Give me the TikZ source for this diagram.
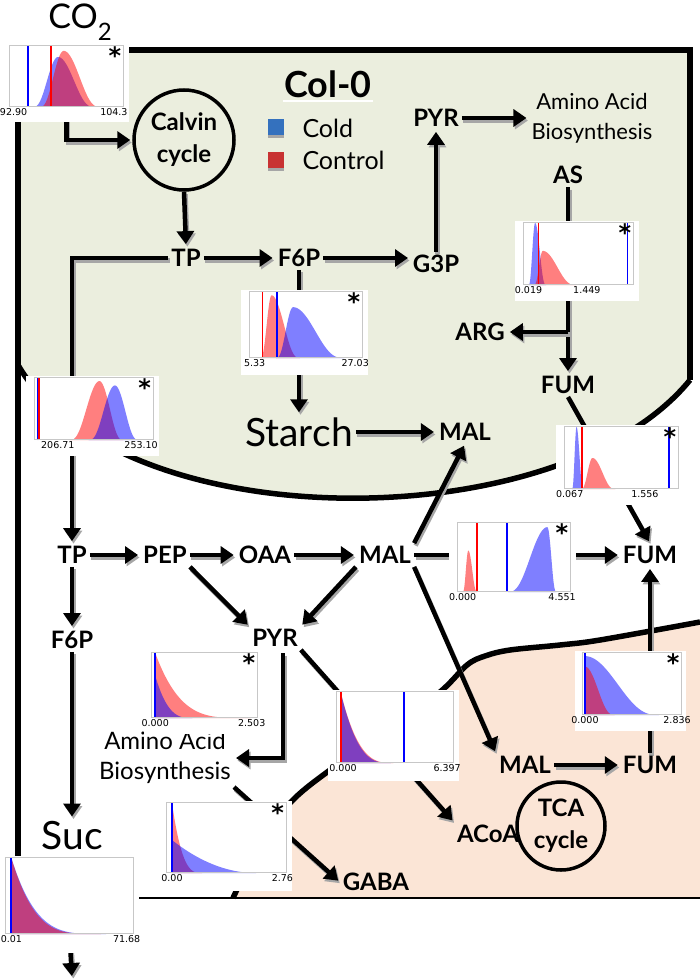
\documentclass[tikz,border=0pt]{standalone}
\usepackage{fontspec}
\setmainfont{Lato}
\newfontfamily\tickfont{DejaVu Sans}
\usetikzlibrary{arrows.meta}
\definecolor{chloro}{RGB}{235,238,222}
\definecolor{mito}{RGB}{251,229,214}
\definecolor{coldblue}{RGB}{52,113,190}
\definecolor{ctrlred}{RGB}{200,50,50}
\pgfdeclarelayer{regions}
\pgfdeclarelayer{links}
\pgfsetlayers{regions,links,main}

\newcommand{\bump}[4]{\fill[#1] (#2,0) -- plot[domain=#2:#3, samples=70] (\x,{#4}) -- (#3,0) -- cycle;}
\newcommand{\mline}[2]{\draw[#1, line width=1.8pt] (#2,0) -- (#2,1);}
\newcommand{\sigstar}{\node[sig] at (0.985,0.99) {*};}
\newcommand{\histo}[9]{%
  \begin{scope}[shift={#2}, x=#3pt, y=#4pt]
    \fill[white] (-0.07,-0.25) rectangle (1.05,1.03);
    #9
    \node[hframe, minimum width=#3pt, minimum height=#4pt, anchor=south west] (#1) at (0,0) {};
    \node[tick] at (#5,0) {#6};
    \node[tick] at (#7,0) {#8};
  \end{scope}}
\newcommand{\link}[3][--]{%
  \draw[arr, draw=black!35] ([shift={(1.5,2.5)}]#2) #1 ([shift={(1.5,2.5)}]#3);
  \draw[arr] (#2) #1 (#3);}

\begin{document}
\begin{tikzpicture}[x=1pt, y=-1pt,
    met/.style={font=\fontsize{24}{24}\selectfont\bfseries, inner sep=3pt},
    big/.style={font=\fontsize{39}{39}\selectfont, inner sep=3pt},
    txt/.style={font=\fontsize{24}{30}\selectfont, align=center, inner sep=3pt},
    cyc/.style={circle, draw, line width=3.5pt, font=\fontsize{24}{32}\selectfont\bfseries, align=center, inner sep=0pt},
    arr/.style={line width=4.5pt, -{Triangle[length=13pt,width=17pt]}, shorten >=2pt},
    wall/.style={line width=5.5pt},
    key/.style={minimum size=16pt, inner sep=0pt},
    hframe/.style={draw=black!22, line width=0.8pt, inner sep=0pt},
    tick/.style={font=\tickfont\fontsize{9.5}{10}\selectfont, inner sep=1.5pt, anchor=north},
    sig/.style={font=\tickfont\bfseries\fontsize{24}{24}\selectfont, inner sep=0pt, anchor=north east},
    blu/.style={fill=blue, fill opacity=0.5},
    rd/.style={fill=red, fill opacity=0.5},
    declare function={bp(\x,\qm,\ql,\qr)=max(0,1-((\x-\qm)/((\x<\qm)*\ql+(1-(\x<\qm))*\qr))^2)^3;
      dk(\x,\qm,\qw,\qp)=max(0,1-(\x-\qm)/\qw)^\qp;}]
\useasboundingbox (0,0) rectangle (700,979);

\begin{pgfonlayer}{regions}
  \fill[chloro] (18,50) -- (690,50) -- (690,380) .. controls (560,540) and (120,540) .. (18,365) -- cycle;
  \fill[mito] plot[smooth, tension=0.55] coordinates {(700,622) (600,640) (560,645) (510,650) (485,656) (467,665) (440,692) (385,733) (330,770) (290,803) (258,848) (233,898)} -- (700,898) -- cycle;
  \draw[wall] (690,380) .. controls (560,540) and (120,540) .. (18,365);
  \draw[wall] plot[smooth, tension=0.55] coordinates {(700,622) (600,640) (560,645) (510,650) (485,656) (467,665) (440,692) (385,733) (330,770) (290,803) (258,848) (233,898)};
  \draw[wall] (18,898) -- (18,50) -- (690,50) -- (690,380);
  \draw[line width=2pt] (18,898) -- (700,898);
\end{pgfonlayer}

\node[font=\fontsize{34}{34}\selectfont, inner sep=0pt, anchor=north] (co2) at (80,4) {CO\raisebox{-0.35em}{\fontsize{24}{24}\selectfont 2}};
\node[cyc, minimum size=100pt] (calvin) at (184,140) {Calvin\\cycle};
\node[font=\fontsize{36}{36}\selectfont\bfseries, inner sep=1pt] (col0) at (328,84) {Col-0};
\draw[white, line width=2pt] ([yshift=-2pt]col0.south west) -- ([yshift=-2pt]col0.south east);
\node[key, fill=coldblue] (kcold) at (276,127) {};
\node[key, fill=ctrlred] (kctrl) at (276,160) {};
\fill[black!35] (kcold.south west) rectangle ([yshift=-3pt]kcold.south east);
\fill[black!35] (kctrl.south west) rectangle ([yshift=-3pt]kctrl.south east);
\node[anchor=west, font=\fontsize{25}{25}\selectfont] (cold) at (299,128) {Cold};
\node[anchor=west, font=\fontsize{25}{25}\selectfont] (ctrl) at (299,160) {Control};

\node[met] (pyrc) at (436,118) {PYR};
\node[txt, font=\fontsize{22}{30}\selectfont] (aac) at (592,118) {Amino Acid\\Biosynthesis};
\node[met] (as) at (568,175) {AS};
\node[met] (tpc) at (186,258) {TP};
\node[met] (f6pc) at (299,258) {F6P};
\node[met] (g3p) at (436,264) {G3P};
\coordinate (g3pin) at (410,258);
\node[big] (starch) at (299,432) {Starch};
\node[met] (malc) at (465,432) {MAL};
\node[met] (arg) at (480,332) {ARG};
\coordinate (argjoin) at (568,332);
\node[met] (fumc) at (568,385) {FUM};

\node[met] (tp) at (72,555) {TP};
\node[met] (pep) at (165,555) {PEP};
\node[met] (oaa) at (265,555) {OAA};
\node[met] (mal) at (385,555) {MAL};
\node[met] (fum) at (650,555) {FUM};
\node[met] (f6p) at (72,640) {F6P};
\node[big] (suc) at (72,836) {Suc};
\node[met] (pyr) at (275,638) {PYR};
\coordinate (pyrdown) at (283,653);
\node[txt] (aa) at (165,758) {Amino Acid\\Biosynthesis};
\node[met] (gaba) at (376,882) {GABA};
\node[met] (acoa) at (488,834) {ACoA};
\node[cyc, minimum size=88pt] (tca) at (561,826) {TCA\\cycle};
\node[met] (malm) at (525,765) {MAL};
\node[met] (fumm) at (650,765) {FUM};
\coordinate (sink) at (72,978);

\histo{hco2}{(9,107)}{114}{61}{0.04}{92.90}{0.92}{104.3}{%
  \bump{blu}{0.21}{0.75}{0.82*bp(\x,0.43,0.22,0.32)}
  \bump{rd}{0.27}{0.80}{0.92*bp(\x,0.48,0.21,0.32)}
  \mline{blue}{0.17}\mline{red}{0.37}\sigstar}
\histo{hf6p}{(249,358)}{113}{66}{0.05}{5.33}{0.94}{27.03}{%
  \bump{rd}{0.10}{0.45}{0.95*bp(\x,0.2,0.1,0.25)}
  \bump{blu}{0.24}{0.84}{0.77*bp(\x,0.39,0.15,0.45)}
  \mline{red}{0.12}\mline{blue}{0.25}\sigstar}
\histo{htp}{(34,440)}{119}{62}{0.2}{206.71}{0.9}{253.10}{%
  \bump{rd}{0.30}{0.75}{0.95*bp(\x,0.55,0.25,0.2)}
  \bump{blu}{0.46}{0.88}{0.88*bp(\x,0.68,0.22,0.2)}
  \mline{blue}{0.03}\mline{red}{0.045}\sigstar}
\histo{has}{(523,285)}{110}{62}{0.05}{0.019}{0.58}{1.449}{%
  \bump{blu}{0.05}{0.21}{1.0*bp(\x,0.11,0.06,0.1)}
  \bump{rd}{0.10}{0.48}{0.55*bp(\x,0.18,0.08,0.3)}
  \mline{red}{0.14}\mline{blue}{0.95}\sigstar}
\histo{hfumc}{(564,489)}{114}{62}{0.05}{0.067}{0.71}{1.556}{%
  \bump{blu}{0.07}{0.17}{1.0*bp(\x,0.11,0.04,0.06)}
  \bump{rd}{0.15}{0.45}{0.5*bp(\x,0.25,0.1,0.2)}
  \mline{red}{0.16}\mline{blue}{0.92}\sigstar}
\histo{hmal}{(457,592)}{113}{69}{0.05}{0.000}{0.93}{4.551}{%
  \bump{rd}{0.05}{0.18}{0.6*bp(\x,0.1,0.05,0.08)}
  \bump{blu}{0.45}{0.88}{0.94*bp(\x,0.8,0.35,0.08)}
  \mline{red}{0.18}\mline{blue}{0.44}\sigstar}
\histo{hpyr}{(151,718)}{106}{65}{0.04}{0.000}{0.95}{2.503}{%
  \bump{rd}{0.04}{0.94}{1.0*dk(\x,0.04,0.9,4)}
  \bump{blu}{0.04}{0.39}{0.65*dk(\x,0.04,0.35,3)}
  \mline{blue}{0.04}\sigstar}
\histo{hacoa}{(336,763)}{117}{71}{0.06}{0.000}{0.95}{6.397}{%
  \bump{rd}{0.04}{0.49}{1.0*dk(\x,0.04,0.45,3)}
  \bump{blu}{0.04}{0.47}{1.0*dk(\x,0.04,0.43,3)}
  \mline{red}{0.04}\mline{blue}{0.58}}
\histo{hfumm}{(582,715)}{99}{62}{0.03}{0.000}{0.96}{2.836}{%
  \bump{blu}{0.03}{0.78}{0.95*bp(\x,0.03,0.02,0.75)}
  \bump{rd}{0.03}{0.33}{0.78*bp(\x,0.03,0.02,0.3)}
  \mline{blue}{0.03}\sigstar}
\histo{hgaba}{(166,873)}{120}{70}{0.05}{0.00}{0.97}{2.76}{%
  \bump{rd}{0.05}{0.30}{1.0*dk(\x,0.05,0.25,3)}
  \bump{blu}{0.05}{0.75}{0.47*dk(\x,0.05,0.7,2)}
  \mline{blue}{0.05}\sigstar}
\histo{hsuc}{(5,934)}{128}{76}{0.05}{0.01}{0.95}{71.68}{%
  \bump{blu}{0.05}{0.79}{1.0*dk(\x,0.05,0.74,4)}
  \bump{rd}{0.05}{0.75}{1.0*dk(\x,0.05,0.7,4)}
  \mline{blue}{0.045}}

\begin{pgfonlayer}{links}
\link[|-]{hco2.south}{calvin.west}
\link{calvin.south}{tpc.north}
\link{tpc.east}{f6pc.west}
\link{f6pc.east}{g3pin}
\link{g3p.north}{pyrc.south}
\link{pyrc.east}{aac.west}
\link{f6pc.south}{starch.north}
\link{starch.east}{malc.west}
\link{as.south}{fumc.north}
\link{argjoin}{arg.east}
\link[-|]{tpc.west}{tp.north}
\link{fumc.south}{fum.north}
\link{tp.east}{pep.west}
\link{pep.east}{oaa.west}
\link{oaa.east}{mal.west}
\link{mal.east}{fum.west}
\link{mal.north east}{malc.south}
\link{pep.south east}{pyr.north west}
\link{mal.south west}{pyr.north east}
\link{mal.south east}{malm.north west}
\link{tp.south}{f6p.north}
\link{f6p.south}{suc.north}
\link[|-]{pyrdown}{aa.east}
\link{pyr.south east}{acoa.north west}
\link{aa.south east}{gaba.west}
\link{malm.east}{fumm.west}
\link{fumm.north}{fum.south}
\link{hsuc.south}{sink}
\end{pgfonlayer}
\end{tikzpicture}
\end{document}
